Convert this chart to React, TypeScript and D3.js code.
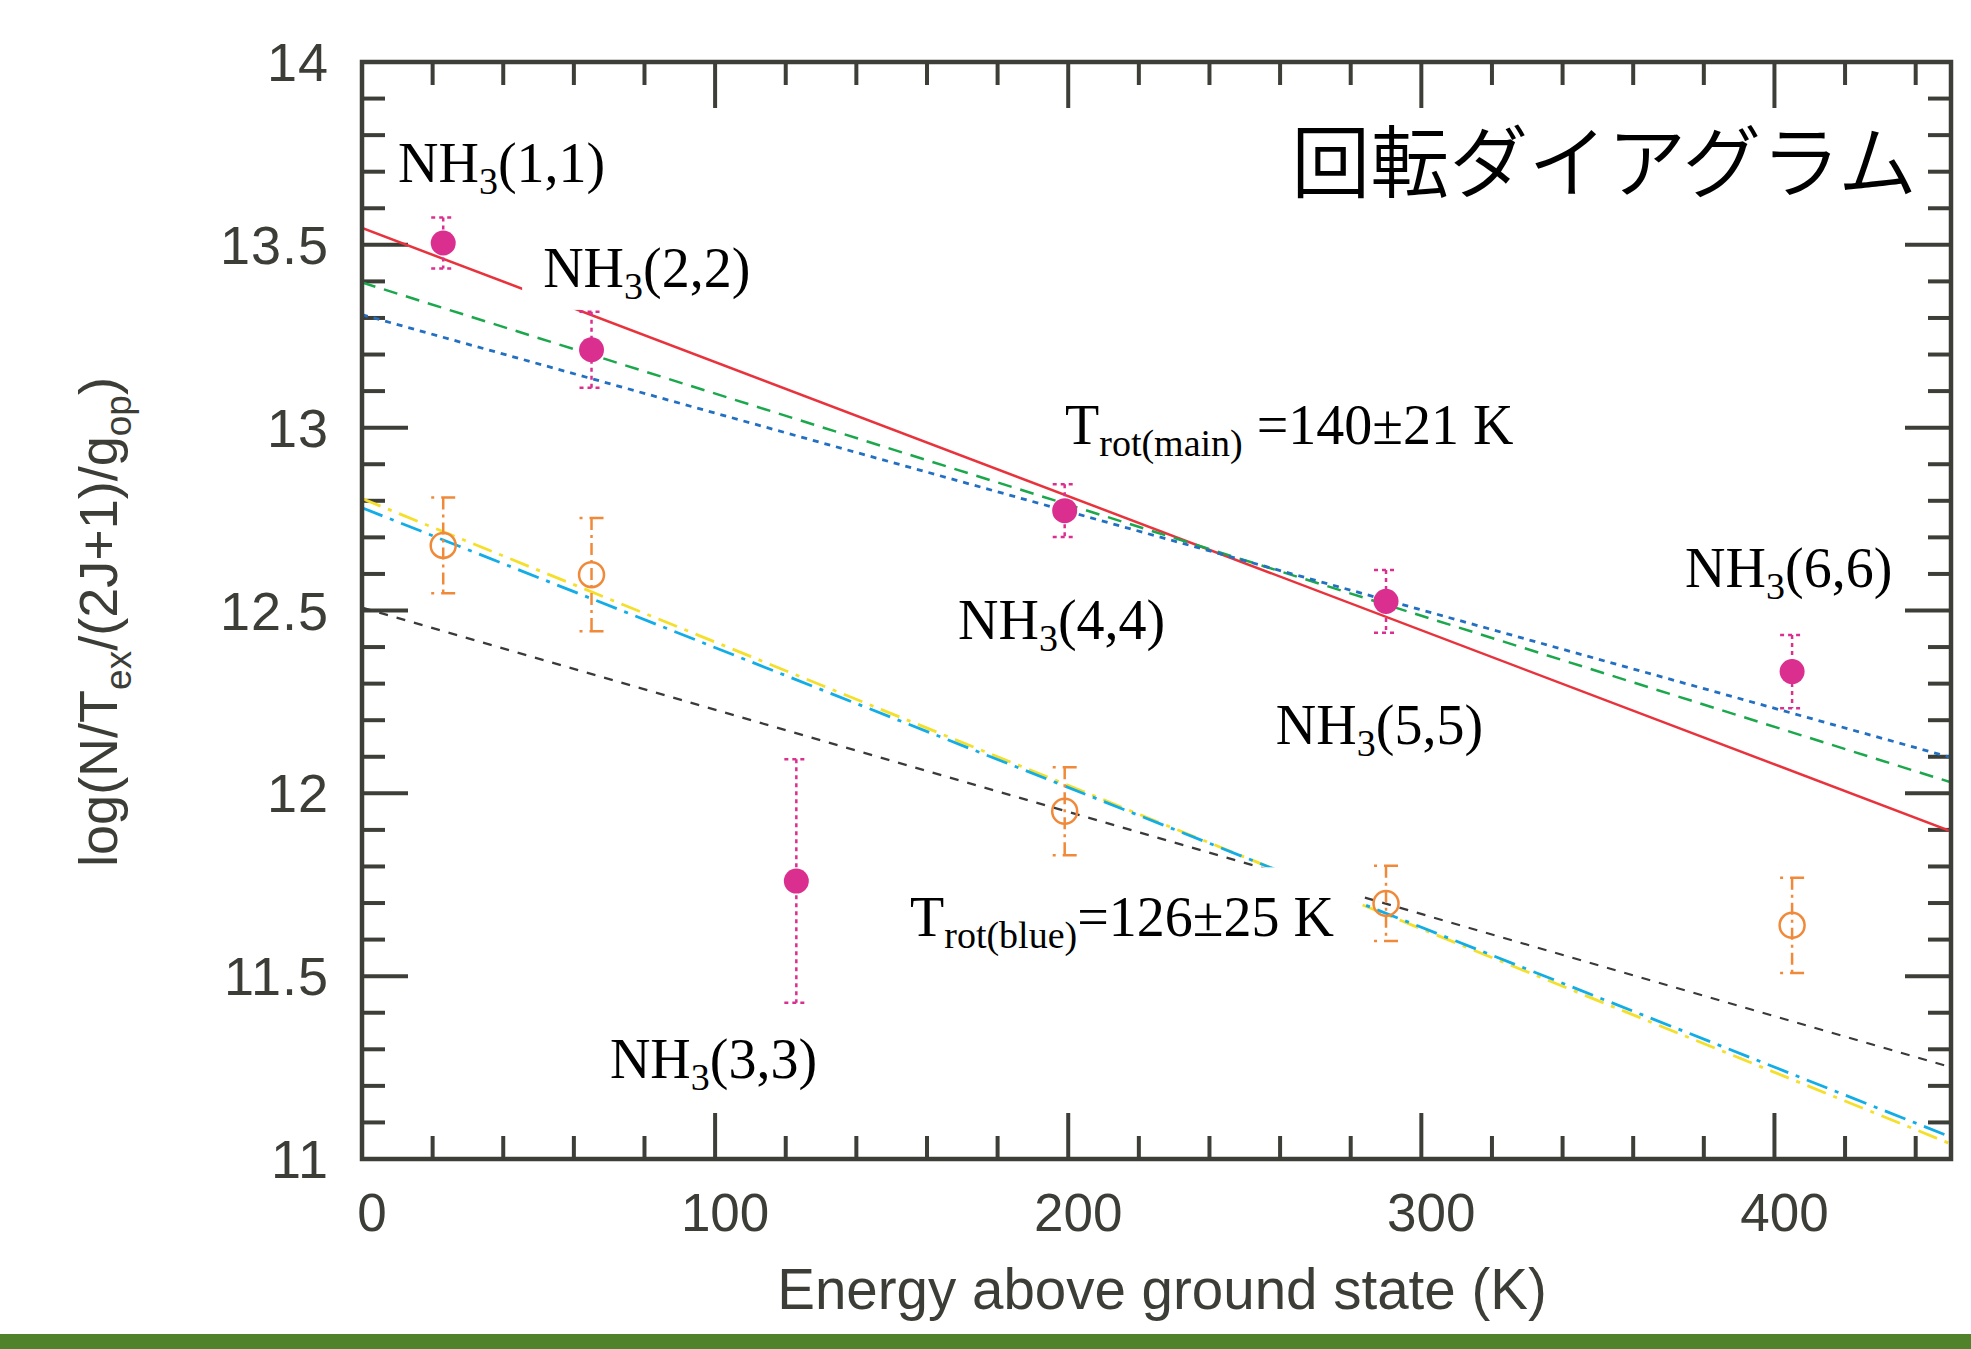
import * as d3 from "d3";
import { useEffect, useRef } from "react";

// main-component points (filled)
const energies = [23, 65, 123, 199, 290, 405];
const mainValues = [13.505, 13.213, 11.76, 12.773, 12.525, 12.333];
const mainErrors = [0.07, 0.104, 0.333, 0.072, 0.086, 0.1];

// blue-shifted component points (open)
const blueEnergies = [23, 65, 199, 290, 405];
const blueValues = [12.678, 12.598, 11.951, 11.699, 11.639];
const blueErrors = [0.131, 0.155, 0.12, 0.103, 0.13];

// fitted lines, value at E=0 and at E=450
const fitNames = ["main", "green", "blue", "black", "yellow", "cyan"];
const fitStart = [13.546, 13.397, 13.309, 12.508, 12.806, 12.781];
const fitEnd = [11.896, 12.03, 12.098, 11.251, 11.041, 11.06];

// labels: text, subscript, rest, anchor (E, value)
const labelText = ["NH", "NH", "NH", "NH", "NH", "NH", "T", "T"];
const labelSub = ["3", "3", "3", "3", "3", "3", "rot(main)", "rot(blue)"];
const labelRest = ["(1,1)", "(2,2)", "(3,3)", "(4,4)", "(5,5)", "(6,6)", " =140±21 K", "=126±25 K"];
const labelE = [10.2, 51.3, 70.2, 168.8, 258.8, 374.7, 199.1, 155.2];
const labelV = [13.672, 13.385, 11.221, 12.421, 12.134, 12.563, 12.954, 11.609];
const boxedLabels = [1, 7];

const title = "回転ダイアグラム";
const xTitle = "Energy above ground state (K)";

const fitStyle = {
  main: { color: "#e8333d", dash: null, w: 2.5 },
  green: { color: "#1ba74b", dash: "14,9", w: 2.5 },
  blue: { color: "#2370c2", dash: "6,6", w: 2.8 },
  black: { color: "#3a3a3a", dash: "9,9", w: 2.2 },
  yellow: { color: "#f4df2a", dash: "20,8,4,8", w: 2.8 },
  cyan: { color: "#12ade6", dash: "22,8,4,8", w: 2.8 },
};

export default function App() {
  const svgRef = useRef(null);

  useEffect(() => {
    const width = 1971;
    const height = 1349;
    const left = 362;
    const right = 1951;
    const top = 62;
    const bottom = 1159;
    const axisColor = "#3e3e38";

    const svg = d3.select(svgRef.current);
    svg.selectAll("*").remove();
    svg.attr("width", width).attr("height", height);

    svg.append("rect").attr("width", width).attr("height", height).attr("fill", "#fff");

    const xScale = d3.scaleLinear().domain([0, 450]).range([left, right]);
    const yScale = d3.scaleLinear().domain([11, 14]).range([bottom, top]);

    svg
      .append("clipPath")
      .attr("id", "plotclip")
      .append("rect")
      .attr("x", left)
      .attr("y", top)
      .attr("width", right - left)
      .attr("height", bottom - top);

    //ticks on all four sides, inward
    const xMajor = xScale.ticks(5);
    const xMinor = d3.range(0, 451, 20).filter((d) => !xMajor.includes(d));
    const yMajor = yScale.ticks(6);
    const yMinor = d3
      .range(110, 141)
      .map((d) => d / 10)
      .filter((d) => !yMajor.some((m) => Math.abs(m - d) < 1e-6));

    const ticks = svg.append("g").attr("stroke", axisColor).attr("stroke-width", 4);
    const tickX = (vals, len) => {
      vals.forEach((v) => {
        ticks.append("line").attr("x1", xScale(v)).attr("x2", xScale(v)).attr("y1", bottom).attr("y2", bottom - len);
        ticks.append("line").attr("x1", xScale(v)).attr("x2", xScale(v)).attr("y1", top).attr("y2", top + len);
      });
    };
    const tickY = (vals, len) => {
      vals.forEach((v) => {
        ticks.append("line").attr("y1", yScale(v)).attr("y2", yScale(v)).attr("x1", left).attr("x2", left + len);
        ticks.append("line").attr("y1", yScale(v)).attr("y2", yScale(v)).attr("x1", right).attr("x2", right - len);
      });
    };
    tickX(xMinor, 23);
    tickX(xMajor, 46);
    tickY(yMinor, 23);
    tickY(yMajor, 46);

    //tick labels
    const sans = "'Liberation Sans', Arial, Helvetica, sans-serif";
    svg
      .append("g")
      .selectAll("text")
      .data(xMajor)
      .enter()
      .append("text")
      .attr("x", (d) => xScale(d) + 10)
      .attr("y", 1231)
      .attr("text-anchor", "middle")
      .attr("font-family", sans)
      .attr("font-size", 53)
      .attr("fill", "#3d3d38")
      .text((d) => d);
    svg
      .append("g")
      .selectAll("text")
      .data(yMajor)
      .enter()
      .append("text")
      .attr("x", 329)
      .attr("y", (d) => yScale(d) + 19)
      .attr("text-anchor", "end")
      .attr("font-family", sans)
      .attr("font-size", 54)
      .attr("letter-spacing", 1)
      .attr("fill", "#3d3d38")
      .text((d) => d);

    //axis titles
    svg
      .append("text")
      .attr("x", 1162)
      .attr("y", 1309)
      .attr("text-anchor", "middle")
      .attr("font-family", sans)
      .attr("font-size", 56.5)
      .attr("fill", "#3d3d38")
      .text(xTitle);

    const yt = svg
      .append("text")
      .attr("transform", "translate(117,622) rotate(-90)")
      .attr("text-anchor", "middle")
      .attr("font-family", sans)
      .attr("font-size", 54)
      .attr("fill", "#3d3d38");
    yt.append("tspan").text("log(N/T");
    yt.append("tspan").attr("font-size", 37).attr("dy", 14).text("ex");
    yt.append("tspan").attr("dy", -14).text("/(2J+1)/g");
    yt.append("tspan").attr("font-size", 37).attr("dy", 14).text("op");
    yt.append("tspan").attr("dy", -14).text(")");

    //fitted lines
    const fits = svg.append("g").attr("clip-path", "url(#plotclip)");
    fitNames.forEach((name, i) => {
      const st = fitStyle[name];
      const line = d3
        .line()
        .x((d) => xScale(d[0]))
        .y((d) => yScale(d[1]));
      fits
        .append("path")
        .attr("d", line([[0, fitStart[i]], [450, fitEnd[i]]]))
        .attr("fill", "none")
        .attr("stroke", st.color)
        .attr("stroke-width", st.w)
        .attr("stroke-dasharray", st.dash);
    });

    //labels
    const serif = "'Liberation Serif', 'Times New Roman', Times, serif";
    labelText.forEach((t, i) => {
      const g = svg.append("g");
      const txt = g
        .append("text")
        .attr("x", xScale(labelE[i]))
        .attr("y", yScale(labelV[i]))
        .attr("font-family", serif)
        .attr("font-size", 56)
        .attr("fill", "#000");
      txt.append("tspan").text(t);
      txt.append("tspan").attr("font-size", 38).attr("dy", 12).text(labelSub[i]);
      txt.append("tspan").attr("dy", -12).text(labelRest[i]);
      if (boxedLabels.includes(i)) {
        const bb = txt.node().getBBox();
        g.insert("rect", "text")
          .attr("x", bb.x - 21)
          .attr("y", bb.y - 19)
          .attr("width", bb.width + 46)
          .attr("height", bb.height + 22)
          .attr("fill", "#fff");
      }
    });

    svg
      .append("text")
      .attr("x", 1917)
      .attr("y", 192)
      .attr("text-anchor", "end")
      .attr("font-family", "'Noto Sans CJK JP', sans-serif")
      .attr("font-weight", 350)
      .attr("font-size", 79)
      .attr("fill", "#000")
      .text(title);

    //error bars + points
    const magenta = "#db2f8f";
    const orange = "#f08a3a";
    const capW = 12;

    const bars = svg.append("g");
    energies.forEach((e, i) => {
      const x = xScale(e);
      const y1 = yScale(mainValues[i] + mainErrors[i]);
      const y2 = yScale(mainValues[i] - mainErrors[i]);
      bars.append("line").attr("x1", x).attr("x2", x).attr("y1", y1).attr("y2", y2)
        .attr("stroke", magenta).attr("stroke-width", 2.5).attr("stroke-dasharray", "4,4");
      [y1, y2].forEach((y) => {
        bars.append("line").attr("x1", x - capW).attr("x2", x + capW).attr("y1", y).attr("y2", y)
          .attr("stroke", magenta).attr("stroke-width", 2.5).attr("stroke-dasharray", "4,4");
      });
    });
    blueEnergies.forEach((e, i) => {
      const x = xScale(e);
      const y1 = yScale(blueValues[i] + blueErrors[i]);
      const y2 = yScale(blueValues[i] - blueErrors[i]);
      bars.append("line").attr("x1", x).attr("x2", x).attr("y1", y1).attr("y2", y2)
        .attr("stroke", orange).attr("stroke-width", 2.5).attr("stroke-dasharray", "12,5,3,5");
      [y1, y2].forEach((y) => {
        bars.append("line").attr("x1", x - capW).attr("x2", x + capW).attr("y1", y).attr("y2", y)
          .attr("stroke", orange).attr("stroke-width", 2.5).attr("stroke-dasharray", "3,7,14");
      });
    });

    svg
      .append("g")
      .selectAll("circle")
      .data(energies)
      .enter()
      .append("circle")
      .attr("cx", (d) => xScale(d))
      .attr("cy", (d, i) => yScale(mainValues[i]))
      .attr("r", 12.5)
      .attr("fill", magenta);

    svg
      .append("g")
      .selectAll("circle")
      .data(blueEnergies)
      .enter()
      .append("circle")
      .attr("cx", (d) => xScale(d))
      .attr("cy", (d, i) => yScale(blueValues[i]))
      .attr("r", 12.5)
      .attr("fill", "none")
      .attr("stroke", orange)
      .attr("stroke-width", 2.5);

    //frame
    svg
      .append("rect")
      .attr("x", left)
      .attr("y", top)
      .attr("width", right - left)
      .attr("height", bottom - top)
      .attr("fill", "none")
      .attr("stroke", axisColor)
      .attr("stroke-width", 4.5);

    //green band at the bottom
    svg.append("rect").attr("x", 0).attr("y", 1334).attr("width", width).attr("height", height - 1334).attr("fill", "#4f822a");
  }, []);

  return <svg ref={svgRef} style={{ position: "absolute", left: 0, top: 0 }}></svg>;
}
